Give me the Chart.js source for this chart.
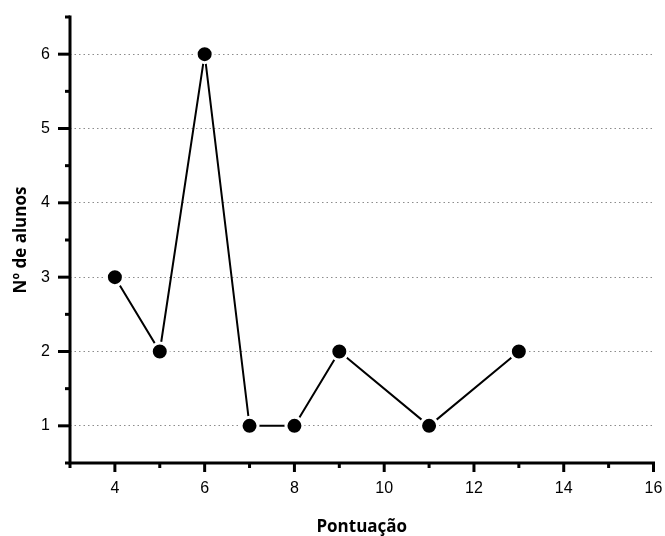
<!DOCTYPE html>
<html>
<head>
<meta charset="utf-8">
<script src="https://cdn.jsdelivr.net/npm/chart.js@4/dist/chart.umd.min.js"></script>
<style>
  html, body { margin: 0; padding: 0; background: #fff; }
  #wrap { width: 665px; height: 536px; }
</style>
</head>
<body>
<div id="wrap"><canvas id="c" width="665" height="536"></canvas></div>
<script>
// Score (Pontuação) and number of students at each score
const scores = [4, 5, 6, 7, 8, 9, 11, 13];
const students = [3, 2, 6, 1, 1, 2, 1, 2];

// Axis ranges and labelled ticks
const xRange = [3, 16];
const yRange = [0.5, 6.5];
const xMajorTicks = [4, 6, 8, 10, 12, 14, 16];
const yMajorTicks = [1, 2, 3, 4, 5, 6];

const isMajorX = v => xMajorTicks.includes(Math.round(v * 100) / 100);
const isMajorY = v => yMajorTicks.includes(Math.round(v * 100) / 100);

// Draws the left/bottom axis lines with outward major and minor tick marks
const axesPlugin = {
  id: 'axesPlugin',
  afterDatasetsDraw(chart) {
    const { ctx, chartArea: a, scales: { x, y } } = chart;
    ctx.save();
    ctx.strokeStyle = '#000';
    ctx.lineCap = 'square';
    ctx.lineWidth = 3;
    ctx.beginPath();
    ctx.moveTo(a.left, a.top);
    ctx.lineTo(a.left, a.bottom);
    ctx.lineTo(a.right, a.bottom);
    ctx.stroke();
    ctx.lineCap = 'butt';
    for (let v = xRange[0]; v <= xRange[1] + 1e-9; v += 1) {
      const px = x.getPixelForValue(v);
      const len = isMajorX(v) ? 9 : 5;
      ctx.beginPath();
      ctx.moveTo(px, a.bottom);
      ctx.lineTo(px, a.bottom + len);
      ctx.stroke();
    }
    for (let v = yRange[0]; v <= yRange[1] + 1e-9; v += 0.5) {
      const py = y.getPixelForValue(v);
      const len = isMajorY(v) ? 12 : 5;
      ctx.beginPath();
      ctx.moveTo(a.left, py);
      ctx.lineTo(a.left - len, py);
      ctx.stroke();
    }
    ctx.restore();
  }
};

new Chart(document.getElementById('c'), {
  type: 'scatter',
  data: {
    datasets: [{
      data: scores.map((s, i) => ({ x: s, y: students[i] })),
      showLine: true,
      borderColor: '#000',
      borderWidth: 2,
      pointRadius: 8.5,
      pointHoverRadius: 8.5,
      pointBackgroundColor: '#000',
      pointBorderColor: '#fff',
      pointBorderWidth: 3,
      tension: 0,
      clip: false
    }]
  },
  options: {
    responsive: false,
    animation: false,
    events: [],
    layout: { padding: { left: 0, right: 11, top: 17, bottom: 0 } },
    plugins: { legend: { display: false }, tooltip: { enabled: false } },
    scales: {
      x: {
        type: 'linear',
        min: xRange[0],
        max: xRange[1],
        afterFit: s => { s.height = 73; s.paddingLeft = 0; s.paddingRight = 0; },
        afterBuildTicks: s => { s.ticks = xMajorTicks.map(v => ({ value: v })); },
        grid: { display: false, drawTicks: false },
        border: { display: false },
        ticks: {
          color: '#000',
          padding: 16,
          font: { family: 'Liberation Sans', size: 16 },
          maxRotation: 0
        },
        title: {
          display: true,
          text: 'Pontuação',
          color: '#000',
          font: { family: 'Open Sans', size: 17, weight: 'bold', lineHeight: 1 },
          padding: { top: 0, bottom: 0 }
        }
      },
      y: {
        type: 'linear',
        min: yRange[0],
        max: yRange[1],
        afterFit: s => { s.width = 70; s.paddingTop = 0; s.paddingBottom = 0; },
        afterBuildTicks: s => { s.ticks = yMajorTicks.map(v => ({ value: v })); },
        grid: {
          color: '#8c8c8c',
          lineWidth: 1,
          drawTicks: false
        },
        border: { display: false, dash: [1.5, 3] },
        ticks: {
          color: '#000',
          padding: 20,
          font: { family: 'Liberation Sans', size: 16 }
        },
        title: {
          display: true,
          text: 'Nº de alunos',
          color: '#000',
          font: { family: 'Open Sans', size: 17, weight: 'bold', lineHeight: 1 },
          padding: { top: 13, bottom: 0 }
        }
      }
    }
  },
  plugins: [axesPlugin]
});
</script>
</body>
</html>
